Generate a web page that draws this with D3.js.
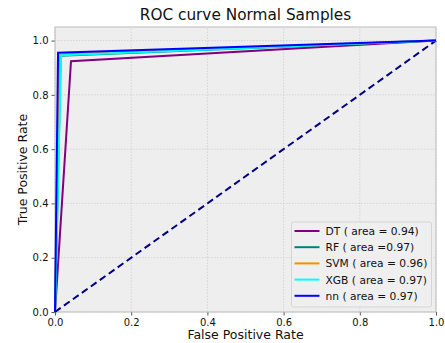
<!DOCTYPE html>
<html>
<head>
<meta charset="utf-8">
<script src="https://cdn.jsdelivr.net/npm/d3@7"></script>
<style>
  body { margin: 0; background: #fff; }
  svg { font-family: "DejaVu Sans", sans-serif; }
</style>
</head>
<body>
<div id="chart"></div>
<script>
// ROC points (fpr, tpr)
const modelNames = ['DT', 'RF', 'SVM', 'XGB', 'nn'];
const legendLabels = ['DT ( area = 0.94)', 'RF ( area =0.97)', 'SVM ( area = 0.96)', 'XGB ( area = 0.97)', 'nn ( area = 0.97)'];
const fprValues = [
  [0, 0.042, 1],
  [0, 0.015, 1],
  [0, 0.011, 1],
  [0, 0.016, 1],
  [0, 0.008, 1]
];
const tprValues = [
  [0, 0.924, 1],
  [0, 0.944, 1],
  [0, 0.949, 1],
  [0, 0.946, 1],
  [0, 0.955, 1]
];
const lineColors = ['#800080', '#008080', '#ff8c00', '#00ffff', '#0000ff'];
const tickValues = [0, 0.2, 0.4, 0.6, 0.8, 1.0];

const width = 445, height = 343;
const margin = { left: 55, right: 9, top: 27, bottom: 31 };

const svg = d3.select('#chart').append('svg')
  .attr('width', width)
  .attr('height', height);

const x = d3.scaleLinear().domain([0, 1]).range([margin.left, width - margin.right]);
const y = d3.scaleLinear().domain([0, 1.05]).range([height - margin.bottom, margin.top]);

// plot background
svg.append('rect')
  .attr('x', margin.left).attr('y', margin.top)
  .attr('width', x(1) - x(0)).attr('height', y(0) - y(1.05))
  .attr('fill', '#eeeeee');

// grid
svg.append('g').selectAll('line').data(tickValues).join('line')
  .attr('x1', d => x(d)).attr('x2', d => x(d))
  .attr('y1', y(0)).attr('y2', y(1.05))
  .attr('stroke', '#c4c4c4').attr('stroke-width', 0.6).attr('stroke-dasharray', '1.5,1.5');
svg.append('g').selectAll('line').data(tickValues).join('line')
  .attr('x1', x(0)).attr('x2', x(1))
  .attr('y1', d => y(d)).attr('y2', d => y(d))
  .attr('stroke', '#c4c4c4').attr('stroke-width', 0.6).attr('stroke-dasharray', '1.5,1.5');

// axes
const xAxis = svg.append('g')
  .attr('transform', `translate(0,${y(0)})`)
  .call(d3.axisBottom(x).tickValues(tickValues).tickFormat(d3.format('.1f')).tickSizeOuter(0).tickSize(3.5).tickPadding(3));
const yAxis = svg.append('g')
  .attr('transform', `translate(${x(0)},0)`)
  .call(d3.axisLeft(y).tickValues(tickValues).tickFormat(d3.format('.1f')).tickSizeOuter(0).tickSize(3.5).tickPadding(3));
[xAxis, yAxis].forEach(g => {
  g.select('.domain').remove();
  g.selectAll('.tick line').attr('stroke', '#555');
  g.selectAll('.tick text').attr('fill', '#111').style('font-size', '10px').style('font-family', '"DejaVu Sans", sans-serif');
});

// frame
svg.append('rect')
  .attr('x', margin.left).attr('y', margin.top)
  .attr('width', x(1) - x(0)).attr('height', y(0) - y(1.05))
  .attr('fill', 'none').attr('stroke', '#bcbcbc').attr('stroke-width', 1);

// diagonal
const line = d3.line().x(d => x(d[0])).y(d => y(d[1]));
svg.append('path')
  .attr('d', line([[0, 0], [1, 1]]))
  .attr('fill', 'none').attr('stroke', '#000080').attr('stroke-width', 2)
  .attr('stroke-dasharray', '7,4');

// curves
modelNames.forEach((name, i) => {
  const pts = fprValues[i].map((f, j) => [f, tprValues[i][j]]);
  svg.append('path')
    .attr('d', line(pts))
    .attr('fill', 'none')
    .attr('stroke', lineColors[i])
    .attr('stroke-width', 2);
});

// title and labels
svg.append('text')
  .attr('x', (x(0) + x(1)) / 2).attr('y', 20)
  .attr('text-anchor', 'middle')
  .style('font-size', '15.3px').attr('fill', '#111')
  .text('ROC curve Normal Samples');
svg.append('text')
  .attr('x', (x(0) + x(1)) / 2).attr('y', 339)
  .attr('text-anchor', 'middle')
  .style('font-size', '12.5px').attr('fill', '#111')
  .text('False Positive Rate');
svg.append('text')
  .attr('transform', `translate(27,${(y(0) + y(1.05)) / 2}) rotate(-90)`)
  .attr('text-anchor', 'middle')
  .style('font-size', '12.5px').attr('fill', '#111')
  .text('True Positive Rate');

// legend
const legend = svg.append('g').attr('transform', 'translate(291.5,222)');
legend.append('rect')
  .attr('width', 140).attr('height', 85).attr('rx', 2)
  .attr('fill', '#eeeeee').attr('fill-opacity', 0.85)
  .attr('stroke', '#d5d5d5');
legendLabels.forEach((lab, i) => {
  const yy = 9 + i * 16.2;
  legend.append('line')
    .attr('x1', 3).attr('x2', 28).attr('y1', yy).attr('y2', yy)
    .attr('stroke', lineColors[i]).attr('stroke-width', 2);
  legend.append('text')
    .attr('x', 34).attr('y', yy + 3.9)
    .style('font-size', '10.7px').attr('fill', '#111')
    .text(lab);
});
</script>
</body>
</html>
